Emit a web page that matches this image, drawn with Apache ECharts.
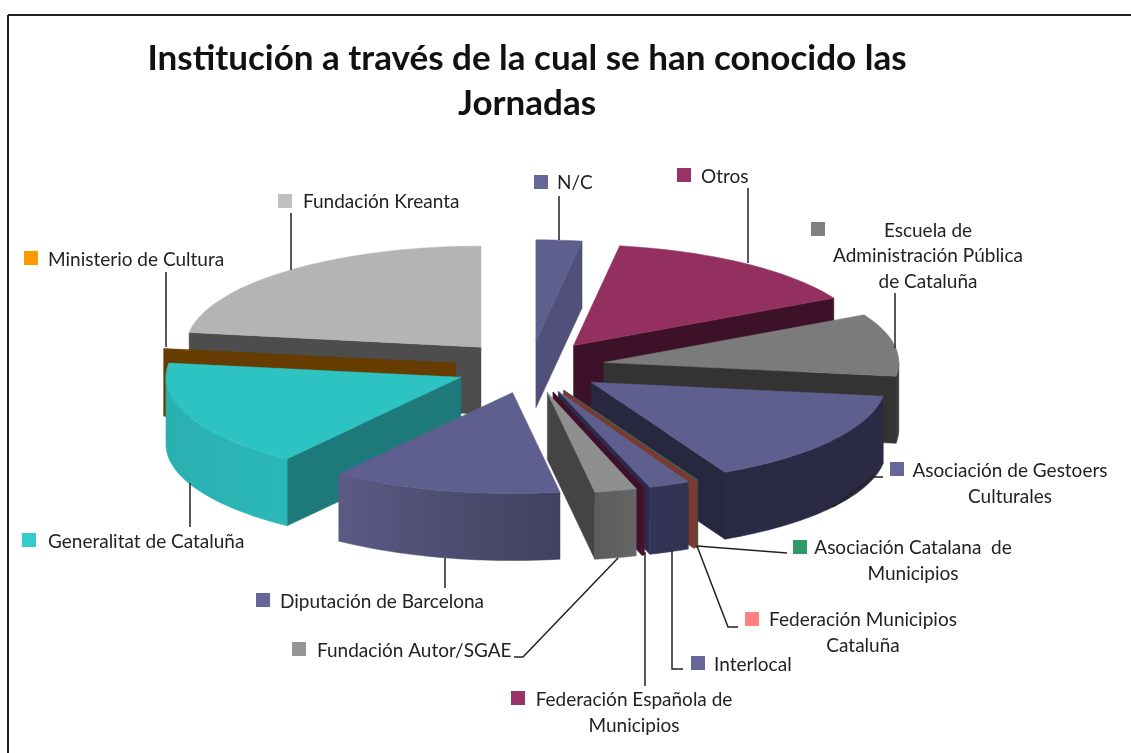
<!DOCTYPE html>
<html>
<head>
<meta charset="utf-8">
<style>html,body{margin:0;padding:0;background:#fff}#chart{width:1131px;height:753px}</style>
<script src="https://cdn.jsdelivr.net/npm/echarts@6/dist/echarts.min.js"></script>
</head>
<body>
<div id="chart"></div>
<script>
// slices in clockwise order from 12 o'clock, values in percent
const names = ["N/C", "Otros", "Escuela de Administración Pública de Cataluña", "Asociación de Gestoers Culturales",
  "Asociación Catalana de Municipios", "Federación Municipios Cataluña", "Interlocal", "Federación Española de Municipios",
  "Fundación Autor/SGAE", "Diputación de Barcelona", "Generalitat de Cataluña", "Ministerio de Cultura", "Fundación Kreanta"];
const values = [2.5, 14.7, 10, 15.3, 0.03, 0.2, 2.25, 0.15, 2.3, 12.6, 17.2, 0.1, 22.67];

const topColors = ["#5f5f8f", "#93305f", "#7b7b7b", "#5f5f8f", "#339966", "#7a3a32", "#5f5f8f", "#3f1029", "#8f8f8f", "#5f5f8f", "#2ec3c3", "#663c00", "#b4b4b4"];
const cutColors = ["#50507a", "#3d1229", "#333333", "#27273f", "#1d5c3c", "#7a3a32", "#2b2b4b", "#3f1029", "#444444", "#2b2b4b", "#1e7a7a", "#663c00", "#4d4d4d"];
const wallLeft = ["#50507a", "#3d1229", "#3a3a3a", "#2a2a44", "#1d5c3c", "#7a3a32", "#34345a", "#4a1030", "#5c5c5c", "#5a5a84", "#2bb0b0", "#663c00", "#4d4d4d"];
const wallRight = ["#50507a", "#3d1229", "#3a3a3a", "#2a2a44", "#1d5c3c", "#7a3a32", "#32324f", "#4a1030", "#666666", "#40405f", "#2bb8b8", "#663c00", "#4d4d4d"];

// pie geometry
const cx = 530, cy = 367, rx = 295, ry = 101, explode = 75, tilt = 0.35, depth = 67;

const total = values.reduce((a, b) => a + b, 0);
const starts = [];
values.reduce((acc, v, i) => { starts[i] = acc; return acc + v; }, 0);

function rad(v) { return v / total * Math.PI * 2; }

function renderSlice(params, api) {
  const i = params.dataIndex;
  const a0 = rad(starts[i]), a1 = a0 + rad(api.value(0)), mid = (a0 + a1) / 2;
  const ox = cx + explode * Math.sin(mid), oy = cy - explode * tilt * Math.cos(mid);
  const pt = (a) => [ox + rx * Math.sin(a), oy - ry * Math.cos(a)];
  const down = (p) => [p[0], p[1] + depth];
  const arc = (from, to) => {
    const n = Math.max(2, Math.ceil((to - from) / 0.03));
    const pts = [];
    for (let k = 0; k <= n; k++) pts.push(pt(from + (to - from) * k / n));
    return pts;
  };
  const z = Math.round((1 - Math.cos(mid)) * 100);
  const children = [];
  const poly = (points, fill) => children.push({
    type: "polygon", z2: z, shape: { points }, style: { fill, stroke: fill, lineWidth: 0.5 }
  });
  const apex = [ox, oy];
  // cut faces, only the ones that look towards the viewer
  if (Math.sin(a0) < 0) poly([apex, pt(a0), down(pt(a0)), down(apex)], cutColors[i]);
  if (Math.sin(a1) > 0) poly([apex, pt(a1), down(pt(a1)), down(apex)], cutColors[i]);
  // outer rim, front half only
  const w0 = Math.max(a0, Math.PI / 2), w1 = Math.min(a1, Math.PI * 1.5);
  if (w1 > w0) {
    const rim = arc(w0, w1);
    poly(rim.concat(rim.slice().reverse().map(down)), {
      type: "linear", x: 0, y: 0, x2: 1, y2: 0,
      colorStops: [
        { offset: 0, color: wallLeft[i] },
        { offset: 1, color: wallRight[i] }
      ]
    });
  }
  poly([apex].concat(arc(a0, a1)), topColors[i]);
  return { type: "group", children };
}

// callouts: marker square, text, leader line
const labelFont = "Lato";
const labelSize = 19;
const callouts = [
  { color: "#c0c0c0", mark: [285, 201], text: "Fundación Kreanta", at: [303, 202], line: [[291, 213], [291, 270]] },
  { color: "#666699", mark: [541, 182], text: "N/C", at: [557, 183], line: [[559, 196], [559, 240]] },
  { color: "#993366", mark: [684, 175], text: "Otros", at: [701, 177], line: [[748, 188], [748, 263]] },
  { color: "#808080", mark: [818, 229], text: "Escuela de\nAdministración Pública\nde Cataluña", center: [928, 256], line: [[895, 293], [895, 348]] },
  { color: "#ff9900", mark: [31, 258], text: "Ministerio de Cultura", at: [48, 260], line: [[166, 272], [166, 347]] },
  { color: "#33cccc", mark: [29, 540], text: "Generalitat de Cataluña", at: [48, 542], line: [[190, 483], [190, 527]] },
  { color: "#666699", mark: [263, 600], text: "Diputación de Barcelona", at: [280, 602], line: [[445, 558], [445, 588]] },
  { color: "#969696", mark: [299, 649], text: "Fundación Autor/SGAE", at: [317, 651], line: [[514, 657], [523, 657], [618, 558]] },
  { color: "#993366", mark: [518, 698], text: "Federación Española de\nMunicipios", center: [634, 713], line: [[645, 552], [645, 686]] },
  { color: "#666699", mark: [698, 663], text: "Interlocal", at: [714, 665], line: [[672, 550], [672, 669], [683, 669]] },
  { color: "#ff8080", mark: [752, 619], text: "Federación Municipios\nCataluña", center: [863, 633], line: [[697, 546], [728, 627], [738, 627]] },
  { color: "#339966", mark: [800, 547], text: "Asociación Catalana  de\nMunicipios", center: [913, 561], line: [[697, 546], [787, 553]] },
  { color: "#666699", mark: [897, 469], text: "Asociación de Gestoers\nCulturales", center: [1010, 484], line: [[833, 507], [873, 477], [883, 477]] }
];

const graphics = [
  { type: "line", shape: { x1: 8, y1: 15, x2: 1131, y2: 15 }, style: { stroke: "#222", lineWidth: 2 } },
  { type: "line", shape: { x1: 8, y1: 15, x2: 8, y2: 753 }, style: { stroke: "#222", lineWidth: 2 } }
];
callouts.forEach((c) => {
  graphics.push({ type: "rect", shape: { x: c.mark[0] - 7, y: c.mark[1] - 7, width: 14, height: 14 }, style: { fill: c.color }, z: 5 });
  const pos = c.center || c.at;
  graphics.push({
    type: "text", x: pos[0], y: pos[1], z: 5,
    style: {
      text: c.text, fill: "#222", font: labelSize + "px " + labelFont, lineHeight: 25.5,
      textAlign: c.center ? "center" : "left", textVerticalAlign: "middle"
    }
  });
  graphics.push({ type: "polyline", shape: { points: c.line }, style: { stroke: "#222", lineWidth: 1.5, fill: "none" }, z: 5 });
});

const chart = echarts.init(document.getElementById("chart"), null, { renderer: "canvas" });
chart.setOption({
  animation: false,
  backgroundColor: "#fff",
  title: {
    text: "Institución a través de la cual se han conocido las\nJornadas",
    left: 522, top: 31, textAlign: "center",
    textStyle: { fontFamily: "Lato", fontWeight: "bold", fontSize: 35, lineHeight: 45, color: "#111" }
  },
  graphic: graphics,
  series: [{
    type: "custom",
    coordinateSystem: "none",
    renderItem: renderSlice,
    silent: true,
    data: values.map((v, i) => ({ name: names[i], value: v }))
  }]
});
</script>
</body>
</html>
